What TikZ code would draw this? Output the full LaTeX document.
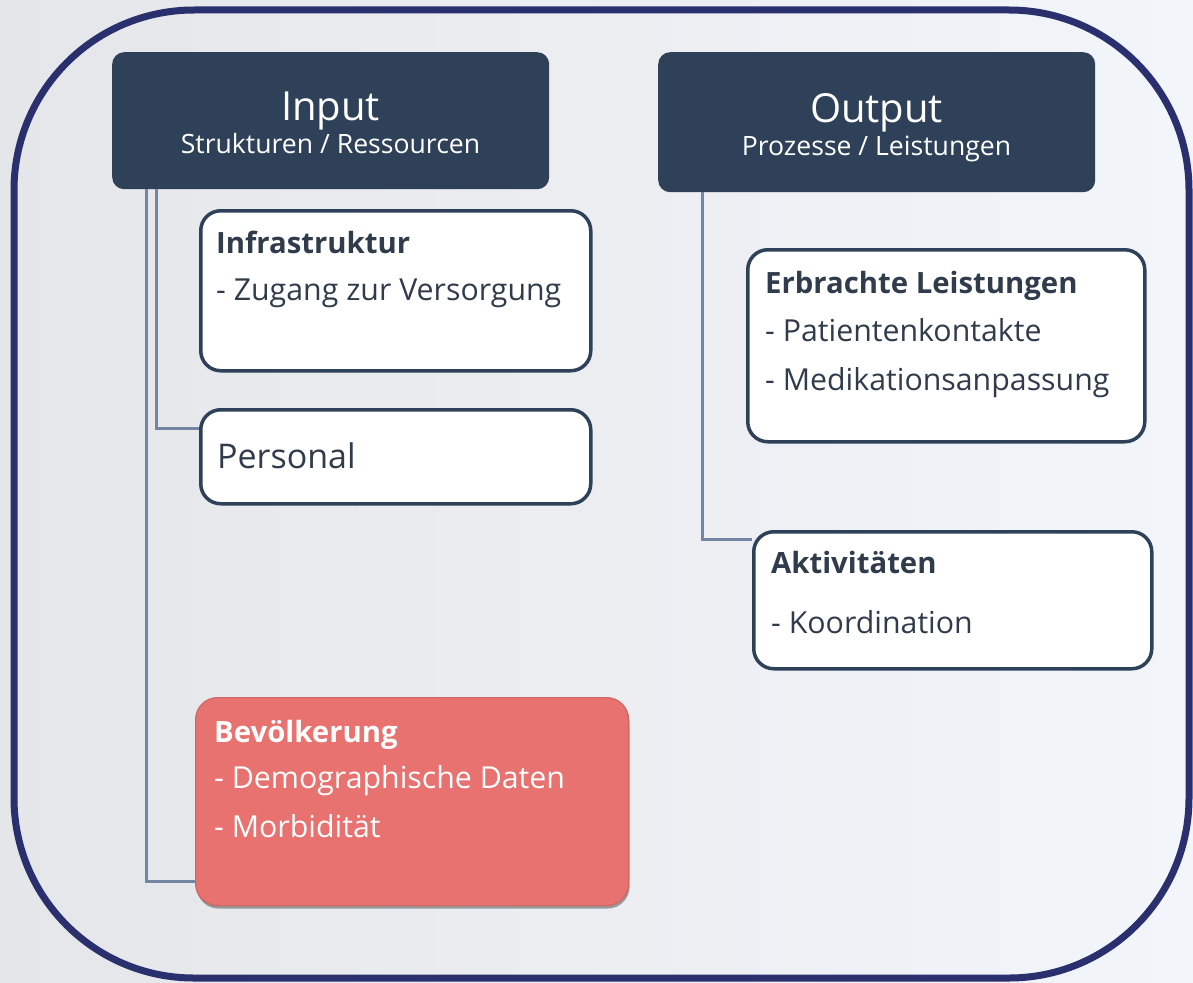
\documentclass[tikz,border=0pt]{standalone}
\usepackage{fontspec}
\setmainfont{Open Sans}
\usetikzlibrary{shadows,calc}
\definecolor{hdrfill}{RGB}{46,65,89}
\definecolor{boxline}{RGB}{46,65,89}
\definecolor{txtdark}{RGB}{48,60,76}
\definecolor{connc}{RGB}{115,135,165}
\definecolor{framec}{RGB}{42,48,110}
\definecolor{bevfill}{RGB}{232,114,112}
\definecolor{bevline}{RGB}{205,102,100}
\definecolor{bgL}{RGB}{229,230,233}
\definecolor{bgM}{RGB}{221,225,232}
\definecolor{bgR}{RGB}{242,245,250}
\tikzset{
  hdr/.style={fill=hdrfill, draw=none, rounded corners=12, anchor=north west, inner sep=0},
  wbox/.style={fill=white, draw=boxline, line width=3.5, rounded corners=20, anchor=north west, inner sep=0},
  bevbox/.style={fill=bevfill, draw=bevline, line width=1.2, rounded corners=22, anchor=north west, inner sep=0,
     drop shadow={shadow xshift=1pt, shadow yshift=-3pt, opacity=0.35, fill=black}},
  conn/.style={draw=connc, line width=3},
  htitle/.style={text=white, font=\fontsize{40}{48}\selectfont, anchor=base, inner sep=0},
  hsub/.style={text=white, font=\fontsize{26.6}{30}\selectfont, anchor=base, inner sep=0},
  btitle/.style={text=txtdark, font=\fontsize{29.3}{36}\selectfont\bfseries, anchor=base west, inner sep=0},
  bline/.style={text=txtdark, font=\fontsize{30.3}{36}\selectfont, anchor=base west, inner sep=0},
  wtitle/.style={text=white, font=\fontsize{29.3}{36}\selectfont\bfseries, anchor=base west, inner sep=0},
  wline/.style={text=white, font=\fontsize{30.3}{36}\selectfont, anchor=base west, inner sep=0},
}
\begin{document}
\begin{tikzpicture}[x=1pt,y=-1pt]
\useasboundingbox (0,0) rectangle (1193,982);
\shade[left color=bgL, middle color=bgM, right color=bgR] (0,0) rectangle (1193,982);
\draw[draw=framec, line width=7, rounded corners=180] (14,10) rectangle (1189,978);

% header boxes
\node[hdr, minimum width=437, minimum height=137] (input) at (112,52) {};
\node[hdr, minimum width=437, minimum height=140] (output) at (658,52) {};
\node[htitle] (input-t) at (330.5,120) {Input};
\node[hsub] (input-s) at (330.5,153) {Strukturen / Ressourcen};
\node[htitle] (output-t) at (876.5,122) {Output};
\node[hsub] (output-s) at (876.5,155) {Prozesse / Leistungen};

% white boxes
\node[wbox, minimum width=390, minimum height=160] (infra) at (199,209) {};
\node[btitle] (infra-t) at (216,253) {Infrastruktur};
\node[bline] (infra-1) at (216,300) {- Zugang zur Versorgung};

\node[wbox, minimum width=390, minimum height=94] (personal) at (199,408) {};
\node[bline, font=\fontsize{34}{40}\selectfont] (personal-t) at (217,468) {Personal};

\node[wbox, minimum width=397, minimum height=192] (erbracht) at (746,248) {};
\node[btitle] (erbracht-t) at (765,293) {Erbrachte Leistungen};
\node[bline] (erbracht-1) at (765,341) {- Patientenkontakte};
\node[bline] (erbracht-2) at (765,390) {- Medikationsanpassung};

\node[wbox, minimum width=398, minimum height=137] (aktiv) at (752,530) {};
\node[btitle] (aktiv-t) at (771,573) {Aktivitäten};
\node[bline] (aktiv-1) at (771,633) {- Koordination};

% red box
\node[bevbox, minimum width=433, minimum height=208] (bev) at (195,697) {};
\node[wtitle] (bev-t) at (214,742) {Bevölkerung};
\node[wline] (bev-1) at (214,788) {- Demographische Daten};
\node[wline] (bev-2) at (214,837) {- Morbidität};

% connectors
\draw[conn] ([xshift=34]input.south west) |- ([yshift=25]bev.south west);
\draw[conn] ([xshift=44]input.south west) |- ([yshift=-20]personal.north west);
\draw[conn] ([xshift=44]output.south west) |- ([yshift=-9]aktiv.north west);
\end{tikzpicture}
\end{document}
